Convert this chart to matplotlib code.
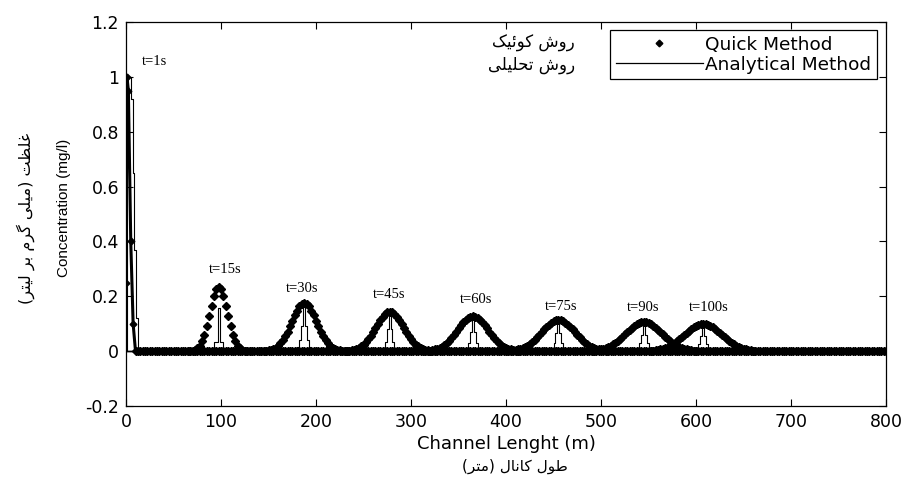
import numpy as np
import matplotlib
matplotlib.use("Agg")
import matplotlib.pyplot as plt
from matplotlib.lines import Line2D

plt.rcParams['font.family'] = ['DejaVu Sans']

# grid of the QUICK scheme (m)
dx = 2.5
x_quick = np.arange(0, 800 + dx, dx)

# times shown and where each pulse sits (m)
times = ['t=15s', 't=30s', 't=45s', 't=60s', 't=75s', 't=90s', 't=100s']
centres = [97.5, 187.5, 277.5, 365.0, 455.0, 545.0, 607.5]

# half profiles of the QUICK solution, from the peak outwards every 2.5 m (mg/l)
quick_half = [
    [0.235, 0.226, 0.201, 0.166, 0.127, 0.090, 0.059, 0.036, 0.020, 0.010, 0.005, 0.002],
    [0.175, 0.172, 0.163, 0.148, 0.130, 0.110, 0.090, 0.071, 0.054, 0.039, 0.028, 0.019,
     0.012, 0.008, 0.005, 0.003, 0.002],
    [0.143, 0.141, 0.135, 0.125, 0.113, 0.099, 0.084, 0.069, 0.055, 0.043, 0.032, 0.024,
     0.017, 0.012, 0.008, 0.005, 0.003, 0.002],
    [0.128, 0.126, 0.122, 0.115, 0.105, 0.094, 0.083, 0.070, 0.059, 0.048, 0.038, 0.029,
     0.022, 0.016, 0.012, 0.008, 0.006, 0.004, 0.002],
    [0.114, 0.113, 0.109, 0.104, 0.097, 0.088, 0.079, 0.069, 0.059, 0.050, 0.041, 0.033,
     0.026, 0.020, 0.015, 0.011, 0.008, 0.006, 0.004, 0.003],
    [0.106, 0.105, 0.102, 0.098, 0.092, 0.085, 0.078, 0.069, 0.061, 0.053, 0.045, 0.037,
     0.030, 0.025, 0.019, 0.015, 0.012, 0.009, 0.006, 0.005, 0.003],
    [0.099, 0.098, 0.096, 0.092, 0.087, 0.081, 0.074, 0.066, 0.059, 0.051, 0.044, 0.037,
     0.030, 0.025, 0.020, 0.016, 0.012, 0.009, 0.007, 0.005, 0.004],
]

# t=1s pulse near the inlet
quick_t1_x = [0.0, 1.0, 2.5, 5.0, 7.5, 10.0]
quick_t1_c = [0.25, 1.0, 0.95, 0.40, 0.10, 0.0]

# analytical solution, sampled every 2 m around each centre
ana_offsets = [-8, -6, -4, -2, 0, 2, 4, 6, 8]
ana_vals = [
    [0, 0, 0.033, 0.033, 0.157, 0.033, 0.033, 0, 0],
    [0, 0.015, 0.040, 0.090, 0.160, 0.090, 0.040, 0.015, 0],
    [0, 0.012, 0.035, 0.080, 0.135, 0.080, 0.035, 0.012, 0],
    [0, 0.010, 0.030, 0.070, 0.120, 0.070, 0.030, 0.010, 0],
    [0, 0.010, 0.030, 0.065, 0.108, 0.065, 0.030, 0.010, 0],
    [0, 0.010, 0.028, 0.060, 0.100, 0.060, 0.028, 0.010, 0],
    [0, 0.010, 0.027, 0.057, 0.095, 0.057, 0.027, 0.010, 0],
]
ana_t1_x = [0, 1, 5, 7, 8.5, 10.5, 13, 800]
ana_t1_c = [0, 1.0, 0.92, 0.65, 0.37, 0.12, 0, 0]

# label positions (m, mg/l)
label_x = [30, 104, 185, 277, 368, 458, 544, 613]
label_y = [1.055, 0.297, 0.227, 0.205, 0.187, 0.161, 0.158, 0.158]
label_txt = ['t=1s'] + times

# Persian captions, written in shaped presentation forms (visual order)
fa_quick = '\uFB8F\uFEF4\uFE8B\uFEEE\uFB90 \uFEB5\uFEED\uFEAD'
fa_anal = '\uFEF0\uFEE0\uFEF4\uFEE0\uFEA4\uFE97 \uFEB5\uFEED\uFEAD'
fa_ylab = ('(\uFEAE\uFE98\uFEF4\uFEDF \uFEAE\uFE91 \uFEE1\uFEAE\uFB94 '
           '\uFEF0\uFEE0\uFEF4\uFEE3) \uFE96\uFEC8\uFEE0\uFECF')
fa_xlab = '(\uFEAE\uFE98\uFEE3) \uFEDD\uFE8E\uFEE7\uFE8E\uFB90 \uFEDD\uFEEE\uFEC3'

W, H = 901, 479
fig = plt.figure(figsize=(W / 100, H / 100), dpi=100)
ax = fig.add_axes([126 / W, 1 - 406 / H, 760 / W, 384 / H])

ms = 4.4
mk = dict(marker='D', markersize=ms, color='k', linestyle='none')

# analytical lines
ax.plot(ana_t1_x, ana_t1_c, color='k', lw=0.8, drawstyle='steps-post')
for cx, vals in zip(centres, ana_vals):
    xa = [0] + [cx + o for o in ana_offsets] + [800]
    ca = [0] + vals + [0]
    ax.plot(xa, ca, color='k', lw=0.8, drawstyle='steps-mid')

# QUICK scheme dots
ax.plot(quick_t1_x, quick_t1_c, color='k', lw=2.2, marker='D', markersize=3.4)
ax.plot(x_quick[4:], np.zeros(len(x_quick) - 4), **mk)
for cx, half in zip(centres, quick_half):
    c = np.zeros_like(x_quick)
    i0 = int(round(cx / dx))
    prof = half[::-1] + half[1:]
    k = len(half) - 1
    c[i0 - k:i0 + k + 1] = prof
    ax.plot(x_quick[i0 - k - 2:i0 + k + 3], c[i0 - k - 2:i0 + k + 3], **mk)

for tx, ty, s in zip(label_x, label_y, label_txt):
    ax.text(tx, ty, s, ha='center', va='center', fontsize=10.5,
            family='Liberation Serif')

ax.set_xlim(0, 800)
ax.set_ylim(-0.2, 1.2)
ax.set_xticks(np.arange(0, 801, 100))
yt = [-0.2, 0, 0.2, 0.4, 0.6, 0.8, 1.0, 1.2]
ax.set_yticks(yt)
ax.set_yticklabels(['-0.2', '0', '0.2', '0.4', '0.6', '0.8', '1', '1.2'])
ax.tick_params(direction='in', top=True, right=True, length=5, width=0.8,
               labelsize=12.5, pad=5)
for sp in ax.spines.values():
    sp.set_linewidth(0.9)

ax.set_xlabel('Channel Lenght (m)', fontsize=13, labelpad=3)

# legend
handles = [Line2D([], [], marker='D', markersize=3.4, color='k', linestyle='none'),
           Line2D([], [], color='k', lw=0.9)]
leg = ax.legend(handles, ['Quick Method', 'Analytical Method'], loc='upper right',
                bbox_to_anchor=(0.988, 0.979), fontsize=13.3, handlelength=4.7,
                handletextpad=0.15, borderpad=0.3, labelspacing=0.12,
                borderaxespad=0, fancybox=False, framealpha=1, edgecolor='k')
leg.get_frame().set_linewidth(0.9)

# Persian captions next to the legend and on the axes
fig.text(575 / W, 1 - 43 / H, fa_quick, ha='right', va='center', fontsize=12)
fig.text(575 / W, 1 - 65 / H, fa_anal, ha='right', va='center', fontsize=12)
fig.text(26 / W, 1 - 218 / H, fa_ylab, ha='center', va='center', rotation=90,
         fontsize=11.5)
fig.text(64 / W, 1 - 208 / H, 'Concentration (mg/l)', ha='center', va='center',
         rotation=90, fontsize=11, fontstretch='condensed',
         family=['Liberation Sans Narrow', 'Liberation Sans'])
fig.text(515 / W, 1 - 466 / H, fa_xlab, ha='center', va='center', fontsize=11)

fig.savefig('out.png', dpi=100)
